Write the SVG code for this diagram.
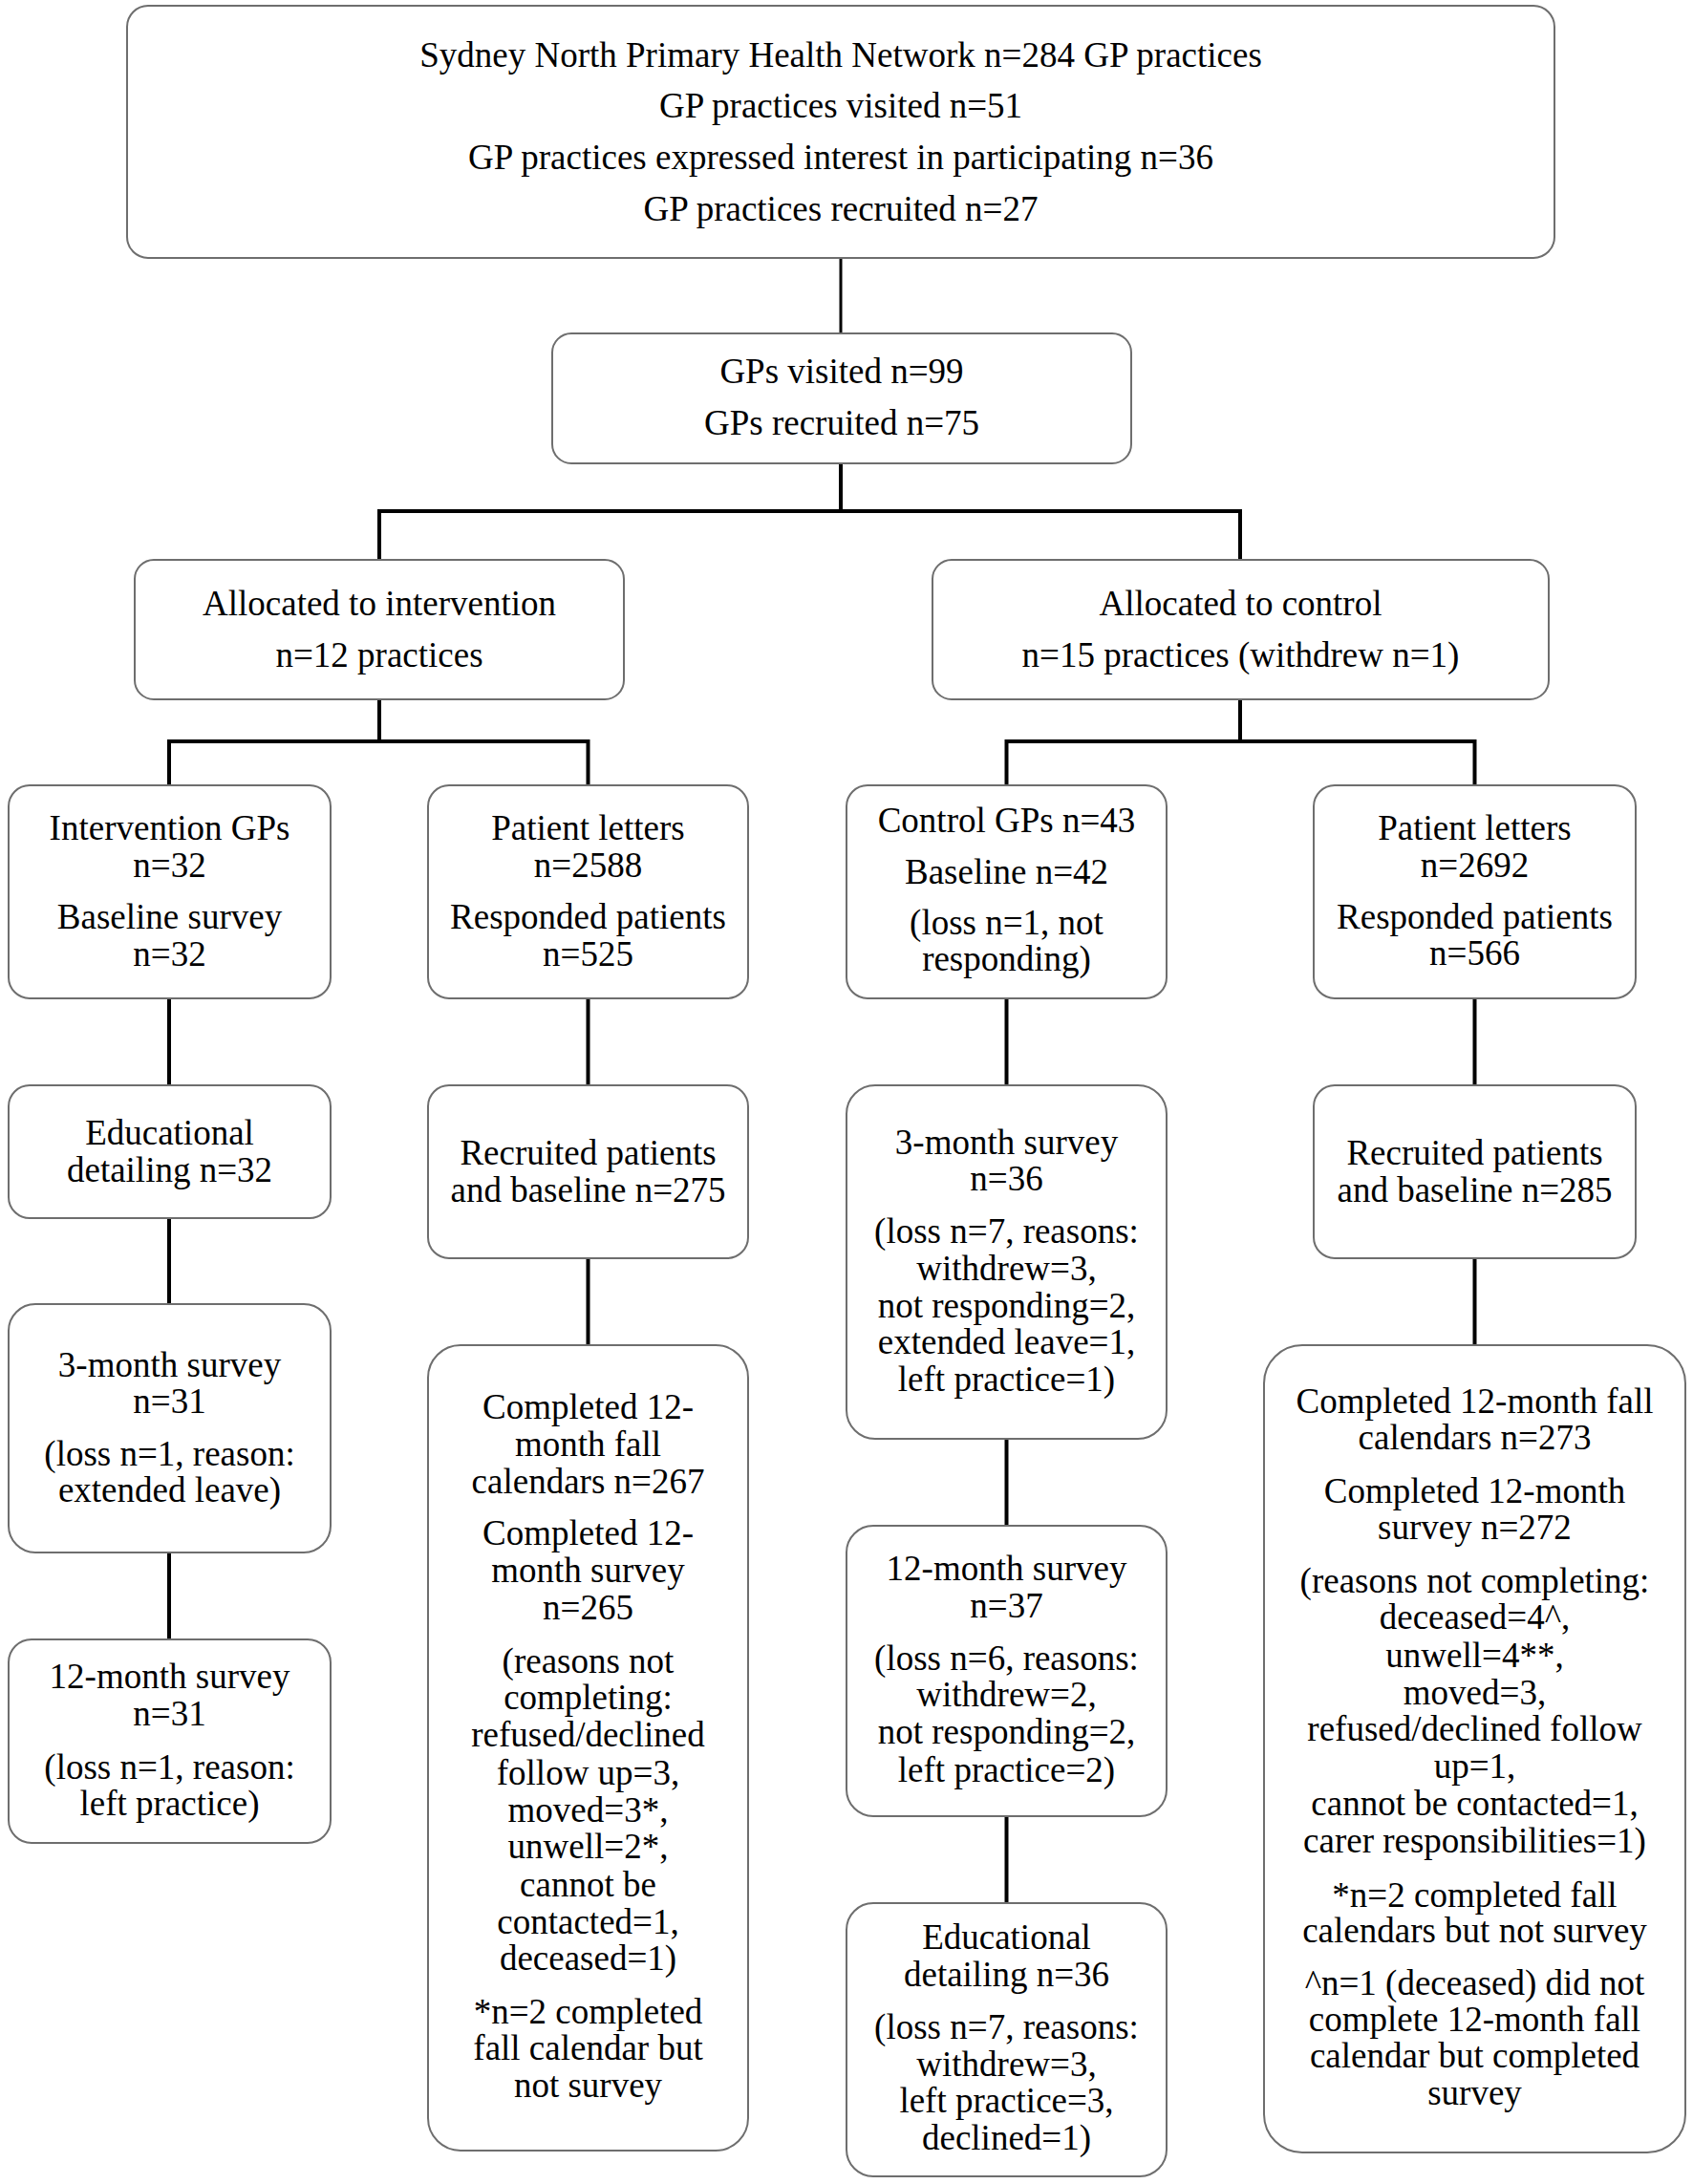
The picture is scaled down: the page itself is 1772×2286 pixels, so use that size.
<svg xmlns="http://www.w3.org/2000/svg" width="1772" height="2286" viewBox="0 0 1772 2286">
<style>
.box{fill:#fff;stroke:#6e6e6e;stroke-width:2}
.t{font-family:"Liberation Serif","Times New Roman",serif;font-size:37px;fill:#000;text-anchor:middle}
.c{fill:none;stroke:#000;stroke-width:4}
</style>
<rect width="1772" height="2286" fill="#fff"/>
<g id="connectors">
<path class="c" style="stroke-width:3" d="M880,270 V349"/>
<path class="c" d="M880,485 V535 M397,586 V535 H1298 V586"/>
<path class="c" d="M397,732 V776 M177,822 V776 H615.5 V822"/>
<path class="c" d="M1298,732 V776 M1053.5,822 V776 H1543.5 V822"/>
<path class="c" d="M177,1045 V1136 M177,1275 V1365 M177,1625 V1716"/>
<path class="c" d="M615.5,1045 V1136 M615.5,1317 V1408"/>
<path class="c" d="M1053.5,1045 V1136 M1053.5,1506 V1597 M1053.5,1901 V1992"/>
<path class="c" d="M1543.5,1045 V1136 M1543.5,1317 V1408"/>
</g>
<g id="top">
<rect class="box" x="133" y="6" width="1494" height="264" rx="22"/>
<text class="t" x="880" y="70">Sydney North Primary Health Network n=284 GP practices</text>
<text class="t" x="880" y="123">GP practices visited n=51</text>
<text class="t" x="880" y="177">GP practices expressed interest in participating n=36</text>
<text class="t" x="880" y="231">GP practices recruited n=27</text>
</g>
<g id="gps">
<rect class="box" x="578" y="349" width="606" height="136" rx="20"/>
<text class="t" x="881" y="401">GPs visited n=99</text>
<text class="t" x="881" y="455">GPs recruited n=75</text>
</g>
<g id="alloc_int">
<rect class="box" x="141" y="586" width="512" height="146" rx="20"/>
<text class="t" x="397" y="644">Allocated to intervention</text>
<text class="t" x="397" y="698">n=12 practices</text>
</g>
<g id="alloc_ctrl">
<rect class="box" x="976" y="586" width="645" height="146" rx="20"/>
<text class="t" x="1298.5" y="644">Allocated to control</text>
<text class="t" x="1298.5" y="698">n=15 practices (withdrew n=1)</text>
</g>
<g id="int_gps">
<rect class="box" x="9" y="822" width="337" height="223" rx="22"/>
<text class="t" x="177.5" y="879">Intervention GPs</text>
<text class="t" x="177.5" y="918">n=32</text>
<text class="t" x="177.5" y="972">Baseline survey</text>
<text class="t" x="177.5" y="1011">n=32</text>
</g>
<g id="int_letters">
<rect class="box" x="448" y="822" width="335" height="223" rx="22"/>
<text class="t" x="615.5" y="879">Patient letters</text>
<text class="t" x="615.5" y="918">n=2588</text>
<text class="t" x="615.5" y="972">Responded patients</text>
<text class="t" x="615.5" y="1011">n=525</text>
</g>
<g id="ctrl_gps">
<rect class="box" x="886" y="822" width="335" height="223" rx="22"/>
<text class="t" x="1053.5" y="871">Control GPs n=43</text>
<text class="t" x="1053.5" y="925">Baseline n=42</text>
<text class="t" x="1053.5" y="978">(loss n=1, not</text>
<text class="t" x="1053.5" y="1016">responding)</text>
</g>
<g id="ctrl_letters">
<rect class="box" x="1375" y="822" width="337" height="223" rx="22"/>
<text class="t" x="1543.5" y="879">Patient letters</text>
<text class="t" x="1543.5" y="918">n=2692</text>
<text class="t" x="1543.5" y="972">Responded patients</text>
<text class="t" x="1543.5" y="1010">n=566</text>
</g>
<g id="int_edu">
<rect class="box" x="9" y="1136" width="337" height="139" rx="22"/>
<text class="t" x="177.5" y="1198">Educational</text>
<text class="t" x="177.5" y="1237">detailing n=32</text>
</g>
<g id="int_recruited">
<rect class="box" x="448" y="1136" width="335" height="181" rx="22"/>
<text class="t" x="615.5" y="1219">Recruited patients</text>
<text class="t" x="615.5" y="1258">and baseline n=275</text>
</g>
<g id="ctrl_3m">
<rect class="box" x="886" y="1136" width="335" height="370" rx="30"/>
<text class="t" x="1053.5" y="1208">3-month survey</text>
<text class="t" x="1053.5" y="1246">n=36</text>
<text class="t" x="1053.5" y="1301">(loss n=7, reasons:</text>
<text class="t" x="1053.5" y="1340">withdrew=3,</text>
<text class="t" x="1053.5" y="1379">not responding=2,</text>
<text class="t" x="1053.5" y="1417">extended leave=1,</text>
<text class="t" x="1053.5" y="1456">left practice=1)</text>
</g>
<g id="ctrl_recruited">
<rect class="box" x="1375" y="1136" width="337" height="181" rx="22"/>
<text class="t" x="1543.5" y="1219">Recruited patients</text>
<text class="t" x="1543.5" y="1258">and baseline n=285</text>
</g>
<g id="int_3m">
<rect class="box" x="9" y="1365" width="337" height="260" rx="28"/>
<text class="t" x="177.5" y="1441">3-month survey</text>
<text class="t" x="177.5" y="1479">n=31</text>
<text class="t" x="177.5" y="1534">(loss n=1, reason:</text>
<text class="t" x="177.5" y="1572">extended leave)</text>
</g>
<g id="int_completed">
<rect class="box" x="448" y="1408" width="335" height="843" rx="34"/>
<text class="t" x="615.5" y="1485">Completed 12-</text>
<text class="t" x="615.5" y="1524">month fall</text>
<text class="t" x="615.5" y="1563">calendars n=267</text>
<text class="t" x="615.5" y="1617">Completed 12-</text>
<text class="t" x="615.5" y="1656">month survey</text>
<text class="t" x="615.5" y="1695">n=265</text>
<text class="t" x="615.5" y="1751">(reasons not</text>
<text class="t" x="615.5" y="1789">completing:</text>
<text class="t" x="615.5" y="1828">refused/declined</text>
<text class="t" x="615.5" y="1868">follow up=3,</text>
<text class="t" x="615.5" y="1907">moved=3*,</text>
<text class="t" x="615.5" y="1945">unwell=2*,</text>
<text class="t" x="615.5" y="1985">cannot be</text>
<text class="t" x="615.5" y="2024">contacted=1,</text>
<text class="t" x="615.5" y="2062">deceased=1)</text>
<text class="t" x="615.5" y="2118">*n=2 completed</text>
<text class="t" x="615.5" y="2156">fall calendar but</text>
<text class="t" x="615.5" y="2195">not survey</text>
</g>
<g id="ctrl_completed">
<rect class="box" x="1323" y="1408" width="441" height="845" rx="40"/>
<text class="t" x="1543.5" y="1479">Completed 12-month fall</text>
<text class="t" x="1543.5" y="1517">calendars n=273</text>
<text class="t" x="1543.5" y="1573">Completed 12-month</text>
<text class="t" x="1543.5" y="1611">survey n=272</text>
<text class="t" x="1543.5" y="1667">(reasons not completing:</text>
<text class="t" x="1543.5" y="1705">deceased=4^,</text>
<text class="t" x="1543.5" y="1745">unwell=4**,</text>
<text class="t" x="1543.5" y="1784">moved=3,</text>
<text class="t" x="1543.5" y="1822">refused/declined follow</text>
<text class="t" x="1543.5" y="1861">up=1,</text>
<text class="t" x="1543.5" y="1900">cannot be contacted=1,</text>
<text class="t" x="1543.5" y="1939">carer responsibilities=1)</text>
<text class="t" x="1543.5" y="1996">*n=2 completed fall</text>
<text class="t" x="1543.5" y="2033">calendars but not survey</text>
<text class="t" x="1543.5" y="2088">^n=1 (deceased) did not</text>
<text class="t" x="1543.5" y="2126">complete 12-month fall</text>
<text class="t" x="1543.5" y="2164">calendar but completed</text>
<text class="t" x="1543.5" y="2203">survey</text>
</g>
<g id="ctrl_12m">
<rect class="box" x="886" y="1597" width="335" height="304" rx="28"/>
<text class="t" x="1053.5" y="1654">12-month survey</text>
<text class="t" x="1053.5" y="1693">n=37</text>
<text class="t" x="1053.5" y="1748">(loss n=6, reasons:</text>
<text class="t" x="1053.5" y="1786">withdrew=2,</text>
<text class="t" x="1053.5" y="1825">not responding=2,</text>
<text class="t" x="1053.5" y="1865">left practice=2)</text>
</g>
<g id="int_12m">
<rect class="box" x="9" y="1716" width="337" height="213" rx="24"/>
<text class="t" x="177.5" y="1767">12-month survey</text>
<text class="t" x="177.5" y="1806">n=31</text>
<text class="t" x="177.5" y="1862">(loss n=1, reason:</text>
<text class="t" x="177.5" y="1900">left practice)</text>
</g>
<g id="ctrl_edu">
<rect class="box" x="886" y="1992" width="335" height="286" rx="28"/>
<text class="t" x="1053.5" y="2040">Educational</text>
<text class="t" x="1053.5" y="2079">detailing n=36</text>
<text class="t" x="1053.5" y="2134">(loss n=7, reasons:</text>
<text class="t" x="1053.5" y="2173">withdrew=3,</text>
<text class="t" x="1053.5" y="2211">left practice=3,</text>
<text class="t" x="1053.5" y="2250">declined=1)</text>
</g>
</svg>
